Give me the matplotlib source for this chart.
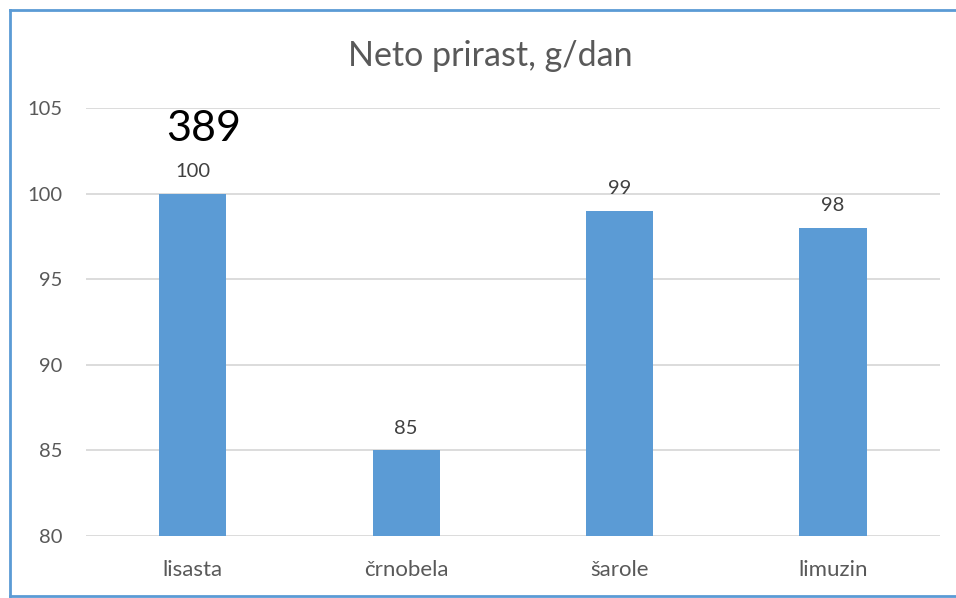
import numpy as np
import matplotlib.pyplot as plt
from matplotlib.lines import Line2D

breeds = ['lisasta', 'črnobela', 'šarole', 'limuzin']
gain = [100, 85, 99, 98]
yticks = [80, 85, 90, 95, 100, 105]

plt.rcParams['font.family'] = ['Lato', 'DejaVu Sans']

fig = plt.figure(figsize=(9.56, 5.98), dpi=100)
ax = fig.add_axes([0.090, 0.1037, 0.893, 0.7157])

x = np.arange(len(breeds))
ax.bar(x, gain, width=0.315, color='#5B9BD5', zorder=3)
for xi, v in zip(x, gain):
    ax.text(xi, v + 0.8, str(v), ha='center', va='bottom', fontsize=14.5, color='#404040')

ax.set_ylim(80, 105)
ax.set_xlim(-0.5, len(breeds) - 0.5)
ax.set_yticks(yticks)
ax.set_xticks(x)
ax.set_xticklabels(breeds, fontsize=16)
ax.tick_params(axis='both', length=0, labelcolor='#595959')
ax.tick_params(axis='y', labelsize=14.5, pad=17)
ax.tick_params(axis='x', pad=17)
ax.grid(axis='y', color='#D9D9D9', linewidth=1.3, zorder=0)
for s in ax.spines.values():
    s.set_visible(False)

ax.text(0.05, 103.8, '389', ha='center', va='center', fontsize=31, color='black')
fig.text(0.513, 0.907, 'Neto prirast, g/dan', ha='center', va='center', fontsize=24.5, color='#595959')

# outer frame: left, top and bottom only (right edge is cut off)
x0, x1 = 9.5 / 956, 1.0
y0, y1 = 2.5 / 598, 588 / 598
for xs, ys in [([x0, x0], [y0, y1]), ([x0, x1], [y1, y1]), ([x0, x1], [y0, y0])]:
    fig.add_artist(Line2D(xs, ys, transform=fig.transFigure, color='#5B9BD5', linewidth=2))

fig.savefig('out.png', dpi=100)
